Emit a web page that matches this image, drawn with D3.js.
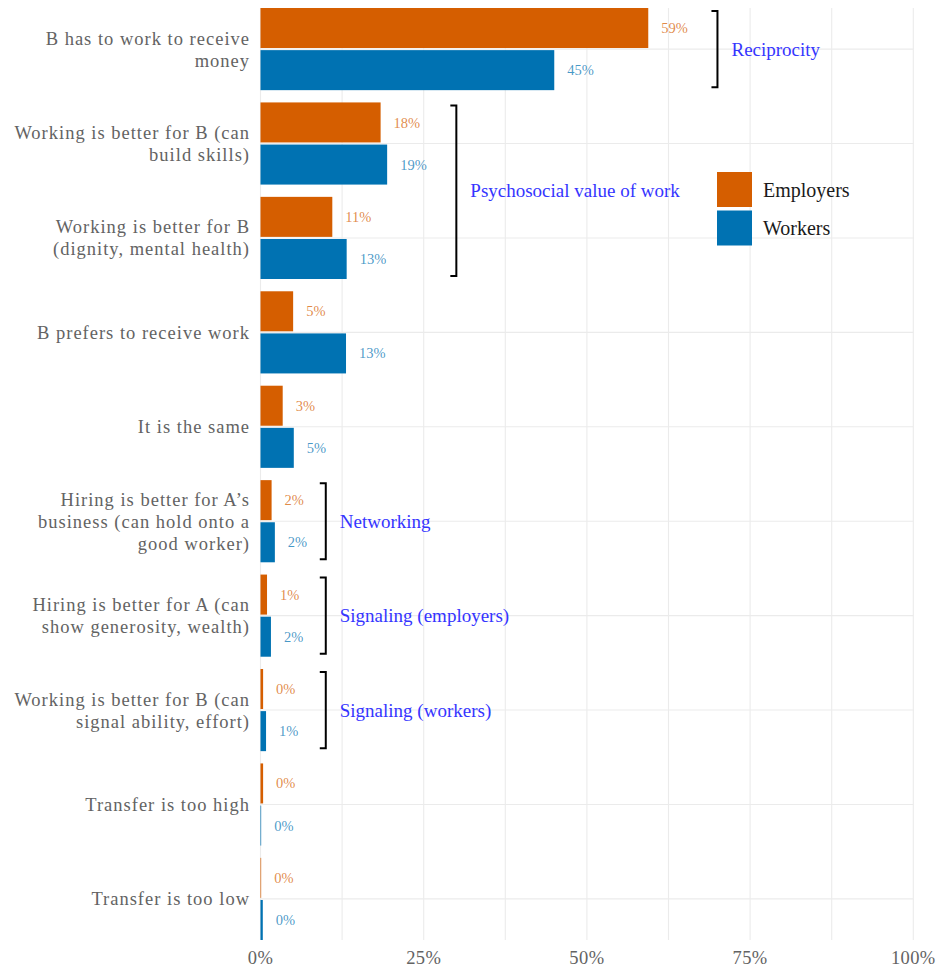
<!DOCTYPE html>
<html>
<head>
<meta charset="utf-8">
<script src="https://cdn.jsdelivr.net/npm/d3@7"></script>
<style>
  body { margin: 0; background: #fff; }
  text { font-family: "Liberation Serif", "DejaVu Serif", serif; }
</style>
</head>
<body>
<svg width="936" height="969"></svg>
<script>
// categories, top to bottom
const categories = [
  ["B has to work to receive", "money"],
  ["Working is better for B (can", "build skills)"],
  ["Working is better for B", "(dignity, mental health)"],
  ["B prefers to receive work"],
  ["It is the same"],
  ["Hiring is better for A\u2019s", "business (can hold onto a", "good worker)"],
  ["Hiring is better for A (can", "show generosity, wealth)"],
  ["Working is better for B (can", "signal ability, effort)"],
  ["Transfer is too high"],
  ["Transfer is too low"]
];
const series = ["Employers", "Workers"];
const employers = [59.4, 18.4, 11.0, 5.0, 3.4, 1.7, 1.0, 0.4, 0.4, 0.1];
const workers = [45.0, 19.4, 13.2, 13.1, 5.1, 2.2, 1.6, 0.85, 0.1, 0.35];
const xTicks = [0, 25, 50, 75, 100];
const xGrid = [0, 12.5, 25, 37.5, 50, 62.5, 75, 87.5, 100];
// brackets: first and last category index, x position (%), label
const groups = [
  { from: 0, to: 0, at: 70, label: "Reciprocity" },
  { from: 1, to: 2, at: 30, label: "Psychosocial value of work" },
  { from: 5, to: 5, at: 10, label: "Networking" },
  { from: 6, to: 6, at: 10, label: "Signaling (employers)" },
  { from: 7, to: 7, at: 10, label: "Signaling (workers)" }
];
const colors = { Employers: "#D55E00", Workers: "#0072B2" };

const svg = d3.select("svg");
const pLeft = 260.5, pRight = 913.3, pTop = 8, pBottom = 940;

const x = d3.scaleLinear().domain([0, 100]).range([pLeft, pRight]);
const y = d3.scaleBand().domain(d3.range(categories.length)).range([pTop, pBottom])
  .paddingInner(0.13).paddingOuter(0);
const ySub = d3.scaleBand().domain(series).range([0, y.bandwidth()]).paddingInner(0.05);

const rows = categories.map((c, i) => ({ i, Employers: employers[i], Workers: workers[i] }));

// grid
const grid = svg.append("g");
grid.selectAll("line.v").data(xGrid).join("line")
  .attr("class", "v")
  .attr("x1", d => x(d)).attr("x2", d => x(d))
  .attr("y1", pTop).attr("y2", pBottom)
  .attr("stroke", "#ebebeb").attr("stroke-width", 1.1);
grid.selectAll("line.h").data(d3.range(categories.length)).join("line")
  .attr("class", "h")
  .attr("x1", pLeft).attr("x2", pRight)
  .attr("y1", d => y(d) + y.bandwidth() / 2).attr("y2", d => y(d) + y.bandwidth() / 2)
  .attr("stroke", "#ebebeb").attr("stroke-width", 1.1);

// bars
const g = svg.append("g").selectAll("g").data(rows).join("g")
  .attr("transform", d => `translate(0,${y(d.i)})`);
const cells = g.selectAll("g").data(d => series.map(s => ({ s, v: d[s] }))).join("g");
cells.append("rect")
  .attr("x", x(0))
  .attr("y", d => ySub(d.s))
  .attr("width", d => x(d.v) - x(0))
  .attr("height", ySub.bandwidth())
  .attr("fill", d => colors[d.s]);
cells.append("text")
  .attr("x", d => x(d.v) + 13)
  .attr("y", d => ySub(d.s) + ySub.bandwidth() / 2)
  .attr("dy", "0.35em")
  .attr("font-size", 14.5)
  .attr("fill", d => colors[d.s])
  .attr("fill-opacity", 0.72)
  .text(d => Math.round(d.v) + "%");

// category labels
const lab = svg.append("g").selectAll("text").data(categories).join("text")
  .attr("text-anchor", "end")
  .attr("font-size", 18.5)
  .attr("letter-spacing", "1px")
  .attr("fill", "#636363")
  .attr("transform", (d, i) => `translate(250,${y(i) + y.bandwidth() / 2})`);
lab.selectAll("tspan").data(d => d.map((t, k) => ({ t, k, n: d.length }))).join("tspan")
  .attr("x", 0)
  .attr("y", d => (d.k - (d.n - 1) / 2) * 22)
  .attr("dy", "0.35em")
  .text(d => d.t);

// x axis labels
svg.append("g").selectAll("text").data(xTicks).join("text")
  .attr("x", d => x(d)).attr("y", 958).attr("dy", "0.35em")
  .attr("text-anchor", "middle")
  .attr("font-size", 18.5)
  .attr("letter-spacing", "0.4px")
  .attr("fill", "#636363")
  .text(d => d + "%");

// brackets
const br = svg.append("g").selectAll("g").data(groups).join("g");
const yTop = d => y(d.from) + 3;
const yBot = d => y(d.to) + y.bandwidth() - 3;
br.append("path")
  .attr("d", d => `M${x(d.at) - 6},${yTop(d)}H${x(d.at)}V${yBot(d)}H${x(d.at) - 6}`)
  .attr("fill", "none").attr("stroke", "#000").attr("stroke-width", 2);
br.append("text")
  .attr("x", d => x(d.at) + 14)
  .attr("y", d => (yTop(d) + yBot(d)) / 2)
  .attr("dy", "0.35em")
  .attr("font-size", 19)
  .attr("fill", "#3535ff")
  .text(d => d.label);

// legend
const lg = svg.append("g").selectAll("g").data(series).join("g")
  .attr("transform", (d, i) => `translate(717,${172 + i * 38.5})`);
lg.append("rect").attr("width", 35).attr("height", 35).attr("fill", d => colors[d]);
lg.append("text").attr("x", 46).attr("y", 17.5).attr("dy", "0.35em")
  .attr("font-size", 20).attr("fill", "#1a1a1a").text(d => d);
</script>
</body>
</html>
